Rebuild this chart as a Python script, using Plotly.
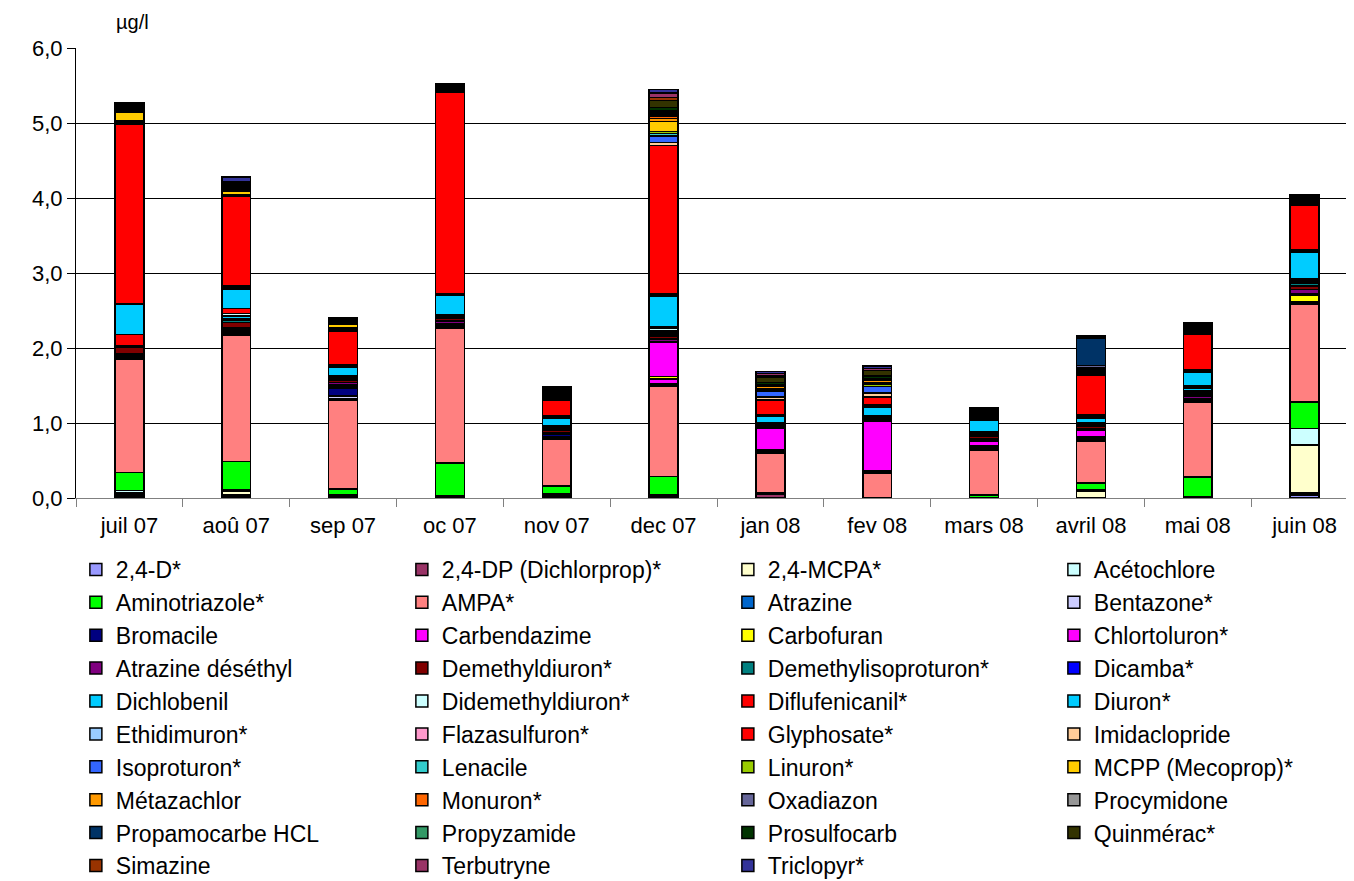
import plotly.graph_objects as go

months = ["juil 07", "aoû 07", "sep 07", "oc 07", "nov 07", "dec 07",
          "jan 08", "fev 08", "mars 08", "avril 08", "mai 08", "juin 08"]

names = ["2,4-D*", "2,4-DP (Dichlorprop)*", "2,4-MCPA*", "Acétochlore",
         "Aminotriazole*", "AMPA*", "Atrazine", "Bentazone*",
         "Bromacile", "Carbendazime", "Carbofuran", "Chlortoluron*",
         "Atrazine déséthyl", "Demethyldiuron*", "Demethylisoproturon*", "Dicamba*",
         "Dichlobenil", "Didemethyldiuron*", "Diflufenicanil*", "Diuron*",
         "Ethidimuron*", "Flazasulfuron*", "Glyphosate*", "Imidaclopride",
         "Isoproturon*", "Lenacile", "Linuron*", "MCPP (Mecoprop)*",
         "Métazachlor", "Monuron*", "Oxadiazon", "Procymidone",
         "Propamocarbe HCL", "Propyzamide", "Prosulfocarb", "Quinmérac*",
         "Simazine", "Terbutryne", "Triclopyr*"]

colors = ["#9999FF", "#993366", "#FFFFCC", "#CCFFFF",
          "#00FF00", "#FF8080", "#0066CC", "#CCCCFF",
          "#000080", "#FF00FF", "#FFFF00", "#FF00FF",
          "#800080", "#800000", "#008080", "#0000FF",
          "#00CCFF", "#CCFFFF", "#FF0000", "#00CCFF",
          "#99CCFF", "#FF99CC", "#FF0000", "#FFCC99",
          "#3366FF", "#33CCCC", "#99CC00", "#FFCC00",
          "#FF9900", "#FF6600", "#666699", "#969696",
          "#003366", "#339966", "#003300", "#333300",
          "#993300", "#993366", "#333399"]

# values in µg/l, one list per substance, months in order
v_24d          = [0.02, 0.02, 0.02, 0.01, 0.02, 0.02, 0.00, 0.00, 0.01, 0.01, 0.02, 0.04]
v_24dp         = [0.02, 0.02, 0.01, 0.01, 0.02, 0.02, 0.05, 0.00, 0.00, 0.00, 0.00, 0.03]
v_mcpa         = [0.03, 0.05, 0.00, 0.00, 0.00, 0.00, 0.00, 0.00, 0.00, 0.08, 0.00, 0.64]
v_acetochlore  = [0.03, 0.02, 0.02, 0.01, 0.02, 0.00, 0.02, 0.00, 0.00, 0.02, 0.00, 0.22]
v_aminotriaz   = [0.24, 0.38, 0.07, 0.44, 0.10, 0.25, 0.00, 0.00, 0.03, 0.09, 0.26, 0.35]
v_ampa         = [1.51, 1.68, 1.19, 1.80, 0.62, 1.20, 0.53, 0.33, 0.60, 0.56, 1.00, 1.30]
v_atrazine     = [0.02, 0.02, 0.02, 0.02, 0.02, 0.02, 0.02, 0.02, 0.02, 0.02, 0.02, 0.02]
v_bentazone    = [0.02, 0.02, 0.03, 0.02, 0.02, 0.02, 0.00, 0.00, 0.00, 0.00, 0.00, 0.00]
v_bromacile    = [0.02, 0.02, 0.11, 0.02, 0.03, 0.00, 0.02, 0.02, 0.02, 0.02, 0.02, 0.02]
v_carbendazime = [0.00, 0.01, 0.02, 0.00, 0.00, 0.06, 0.00, 0.00, 0.02, 0.02, 0.00, 0.00]
v_carbofuran   = [0.00, 0.00, 0.00, 0.00, 0.00, 0.03, 0.00, 0.00, 0.00, 0.00, 0.00, 0.09]
v_chlortoluron = [0.00, 0.00, 0.02, 0.00, 0.00, 0.46, 0.29, 0.65, 0.06, 0.09, 0.00, 0.02]
v_atr_desethyl = [0.02, 0.03, 0.03, 0.03, 0.02, 0.04, 0.02, 0.02, 0.03, 0.02, 0.04, 0.05]
v_demethyldiu  = [0.08, 0.07, 0.03, 0.04, 0.03, 0.04, 0.02, 0.02, 0.03, 0.03, 0.03, 0.05]
v_demethyliso  = [0.01, 0.03, 0.02, 0.02, 0.02, 0.02, 0.02, 0.02, 0.02, 0.02, 0.02, 0.03]
v_dicamba      = [0.00, 0.02, 0.00, 0.00, 0.00, 0.02, 0.00, 0.00, 0.00, 0.00, 0.02, 0.02]
v_dichlobenil  = [0.01, 0.04, 0.02, 0.02, 0.02, 0.03, 0.02, 0.02, 0.02, 0.02, 0.03, 0.02]
v_didemethyl   = [0.00, 0.03, 0.00, 0.00, 0.00, 0.04, 0.00, 0.00, 0.00, 0.00, 0.02, 0.00]
v_diflufenican = [0.15, 0.07, 0.02, 0.01, 0.02, 0.02, 0.00, 0.00, 0.02, 0.00, 0.02, 0.02]
v_diuron       = [0.40, 0.26, 0.11, 0.25, 0.10, 0.40, 0.08, 0.11, 0.16, 0.07, 0.18, 0.36]
v_ethidimuron  = [0.01, 0.02, 0.02, 0.02, 0.02, 0.02, 0.02, 0.02, 0.02, 0.02, 0.03, 0.02]
v_flazasulfur  = [0.00, 0.02, 0.02, 0.01, 0.02, 0.02, 0.00, 0.02, 0.02, 0.02, 0.00, 0.01]
v_glyphosate   = [2.40, 1.19, 0.45, 2.68, 0.21, 1.97, 0.20, 0.10, 0.02, 0.53, 0.48, 0.59]
v_imidaclopr   = [0.02, 0.01, 0.02, 0.02, 0.02, 0.04, 0.04, 0.05, 0.00, 0.02, 0.02, 0.02]
v_isoproturon  = [0.00, 0.00, 0.00, 0.00, 0.02, 0.09, 0.07, 0.09, 0.02, 0.02, 0.02, 0.02]
v_lenacile     = [0.00, 0.00, 0.00, 0.00, 0.00, 0.03, 0.00, 0.00, 0.00, 0.00, 0.00, 0.00]
v_linuron      = [0.02, 0.02, 0.02, 0.02, 0.02, 0.03, 0.02, 0.03, 0.00, 0.02, 0.02, 0.02]
v_mcpp         = [0.12, 0.04, 0.05, 0.02, 0.02, 0.13, 0.02, 0.02, 0.02, 0.02, 0.02, 0.02]
v_metazachlor  = [0.02, 0.02, 0.02, 0.00, 0.02, 0.04, 0.03, 0.03, 0.00, 0.02, 0.02, 0.02]
v_monuron      = [0.02, 0.02, 0.00, 0.02, 0.00, 0.03, 0.00, 0.00, 0.00, 0.00, 0.00, 0.00]
v_oxadiazon    = [0.00, 0.00, 0.00, 0.00, 0.00, 0.02, 0.00, 0.00, 0.00, 0.03, 0.00, 0.00]
v_procymidone  = [0.02, 0.02, 0.02, 0.02, 0.02, 0.02, 0.02, 0.02, 0.02, 0.00, 0.02, 0.02]
v_propamocarbe = [0.00, 0.00, 0.00, 0.00, 0.00, 0.02, 0.00, 0.00, 0.00, 0.36, 0.00, 0.00]
v_propyzamide  = [0.00, 0.00, 0.00, 0.00, 0.00, 0.02, 0.00, 0.00, 0.00, 0.00, 0.00, 0.00]
v_prosulfocarb = [0.02, 0.02, 0.00, 0.00, 0.02, 0.04, 0.03, 0.04, 0.00, 0.01, 0.01, 0.02]
v_quinmerac    = [0.02, 0.02, 0.02, 0.00, 0.02, 0.09, 0.07, 0.07, 0.02, 0.02, 0.02, 0.01]
v_simazine     = [0.00, 0.01, 0.00, 0.00, 0.00, 0.04, 0.02, 0.00, 0.00, 0.00, 0.00, 0.00]
v_terbutryne   = [0.00, 0.02, 0.00, 0.00, 0.00, 0.06, 0.03, 0.03, 0.00, 0.00, 0.00, 0.00]
v_triclopyr    = [0.02, 0.06, 0.02, 0.01, 0.02, 0.05, 0.03, 0.03, 0.02, 0.00, 0.00, 0.00]

series_values = [v_24d, v_24dp, v_mcpa, v_acetochlore, v_aminotriaz, v_ampa,
                 v_atrazine, v_bentazone, v_bromacile, v_carbendazime, v_carbofuran,
                 v_chlortoluron, v_atr_desethyl, v_demethyldiu, v_demethyliso, v_dicamba,
                 v_dichlobenil, v_didemethyl, v_diflufenican, v_diuron, v_ethidimuron,
                 v_flazasulfur, v_glyphosate, v_imidaclopr, v_isoproturon, v_lenacile,
                 v_linuron, v_mcpp, v_metazachlor, v_monuron, v_oxadiazon, v_procymidone,
                 v_propamocarbe, v_propyzamide, v_prosulfocarb, v_quinmerac, v_simazine,
                 v_terbutryne, v_triclopyr]

y_ticks = [0, 1, 2, 3, 4, 5, 6]

fig = go.Figure()
for name, color, vals in zip(names, colors, series_values):
    fig.add_trace(go.Bar(
        x=months, y=vals, name=name, width=0.27,
        marker=dict(color=color, line=dict(color="black", width=1.5)),
    ))

fig.update_layout(
    width=1354, height=881,
    barmode="stack",
    margin=dict(l=68, r=4, t=40, b=391, autoexpand=False),
    paper_bgcolor="white", plot_bgcolor="white",
    font=dict(family="Liberation Sans, Arial, sans-serif", size=22, color="black"),
    separators=", ",
    showlegend=True,
    legend=dict(
        orientation="h", x=-0.0001, xanchor="left", y=-0.111, yanchor="top",
        entrywidth=281, entrywidthmode="pixels", traceorder="normal",
        font=dict(size=23, color="black"), bgcolor="rgba(0,0,0,0)",
    ),
    xaxis=dict(
        type="category", showline=True, linecolor="#808080", linewidth=1,
        ticks="outside", tickson="boundaries", ticklen=8, tickcolor="#808080",
        showgrid=False, tickfont=dict(size=22), ticklabelstandoff=8,
    ),
    yaxis=dict(
        range=[0, 6], tickvals=y_ticks, tickformat=".1f",
        showgrid=True, gridcolor="black", gridwidth=1,
        showline=True, linecolor="black", linewidth=1,
        ticks="outside", ticklen=8, tickcolor="black",
        zeroline=False, tickfont=dict(size=22),
    ),
    annotations=[dict(
        text="µg/l", xref="paper", yref="paper", x=0.030, y=1.058,
        xanchor="left", yanchor="middle", showarrow=False,
        font=dict(size=20, color="black"),
    )],
)

fig.write_html("out.html")
